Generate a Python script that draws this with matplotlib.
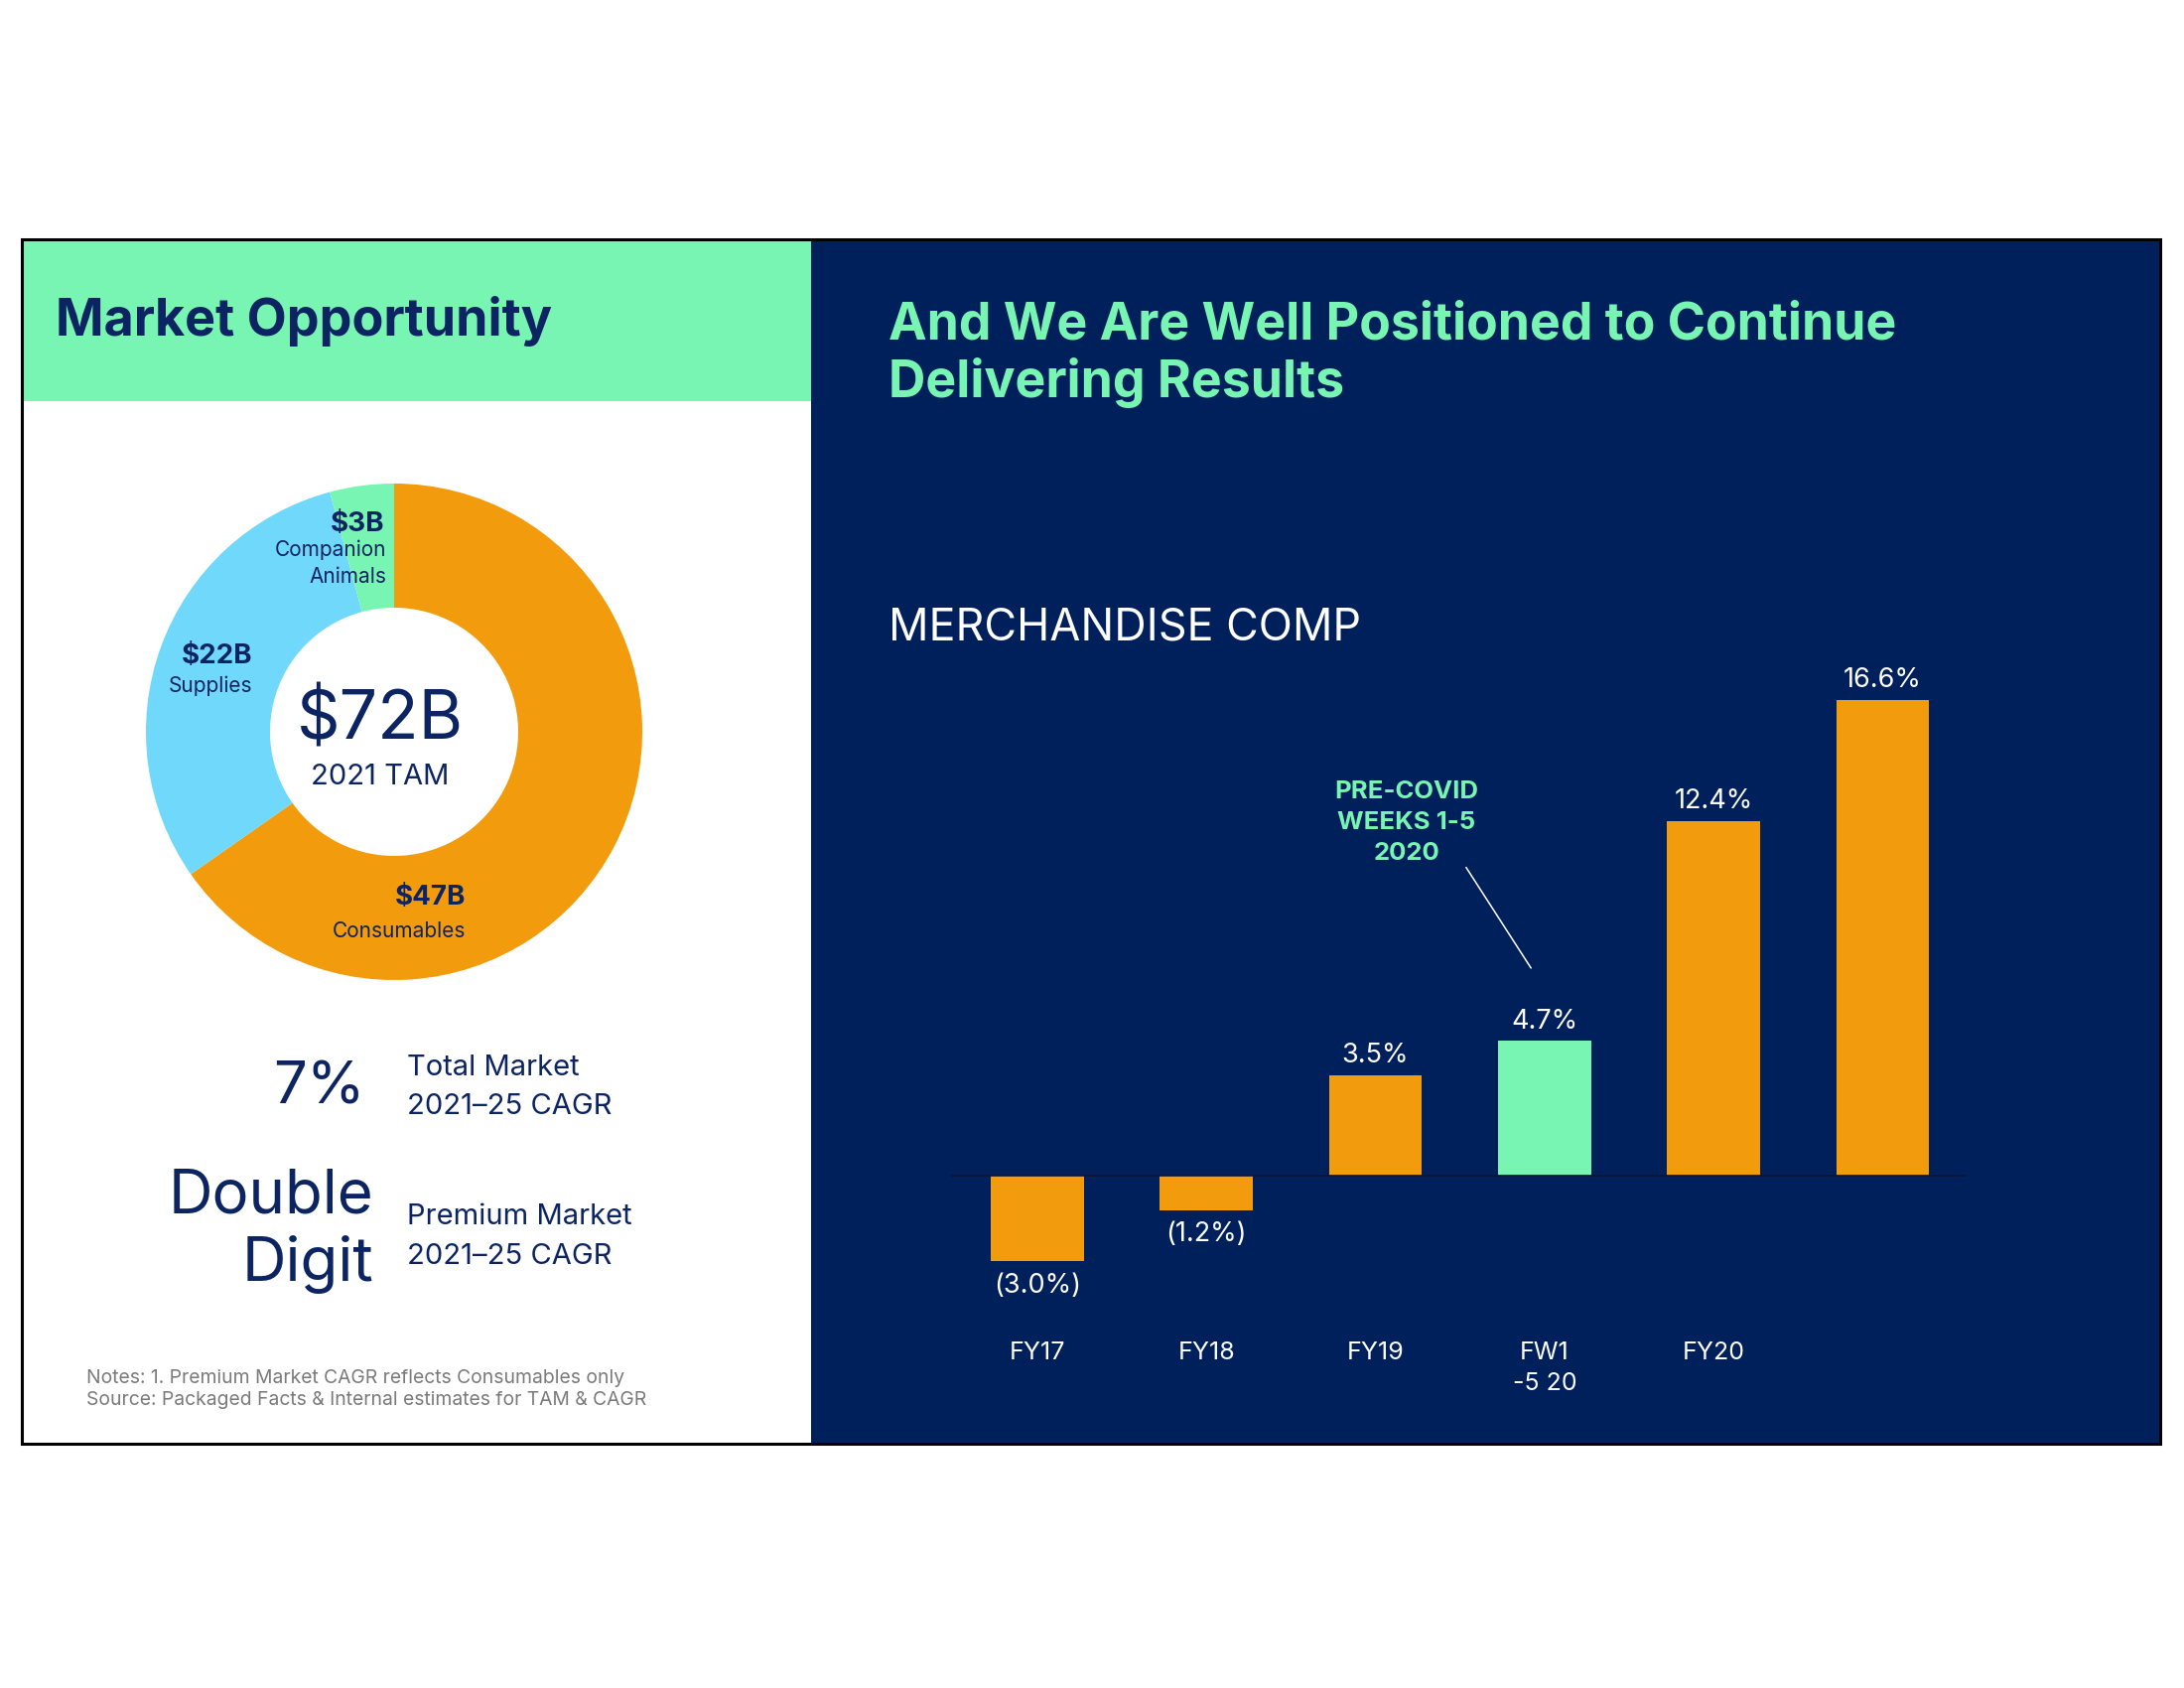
import matplotlib
matplotlib.use("Agg")
import matplotlib.pyplot as plt
from matplotlib.patches import Rectangle

# ---------------- data ----------------
donut_labels = ["Consumables", "Supplies", "Companion\nAnimals"]
donut_values = [47, 22, 3]
donut_value_text = ["$47B", "$22B", "$3B"]
tam_total = "$72B"
tam_label = "2021 TAM"

bar_categories = ["FY17", "FY18", "FY19", "FW1\n-5 20", "FY20", ""]
bar_values = [-3.0, -1.2, 3.5, 4.7, 12.4, 16.6]
bar_labels = ["(3.0%)", "(1.2%)", "3.5%", "4.7%", "12.4%", "16.6%"]
highlight_index = 3

# ---------------- styles ----------------
NAVY_BG = "#00205B"
NAVY_TXT = "#0C2461"
MINT = "#79F5B3"
ORANGE = "#F29B0D"
BLUE = "#6FD8FB"
GREY = "#7A7A7A"
FONT = "Inter"

W, H = 2200, 1700
fig = plt.figure(figsize=(22, 17), dpi=100)
fig.patch.set_facecolor("white")


def T(x, y, s, **kw):
    kw.setdefault("family", FONT)
    return fig.text(x / W, 1 - y / H, s, **kw)


# background / panels
bg = fig.add_axes([0, 0, 1, 1])
bg.set_xlim(0, W)
bg.set_ylim(H, 0)
bg.axis("off")
bg.add_patch(Rectangle((817, 241), 2176 - 817, 1454 - 241, facecolor=NAVY_BG, edgecolor="none"))
bg.add_patch(Rectangle((22, 241), 817 - 22, 404 - 241, facecolor=MINT, edgecolor="none"))
bg.add_patch(Rectangle((22, 241), 2176 - 22, 1454 - 241, facecolor="none", edgecolor="black", lw=2.2, zorder=5))

# ---------------- donut ----------------
cx, cy, R = 397, 737, 250
axd = fig.add_axes([(cx - R) / W, 1 - (cy + R) / H, 2 * R / W, 2 * R / H])
axd.pie(donut_values, colors=[ORANGE, BLUE, MINT], startangle=90, counterclock=False,
        radius=1, wedgeprops=dict(width=0.5, edgecolor="none"))
axd.set_xlim(-1, 1)
axd.set_ylim(-1, 1)
axd.set_aspect("equal")
axd.axis("off")

T(383, 744, tam_total, fontsize=49, color=NAVY_TXT, ha="center", va="baseline")
T(383, 790, tam_label, fontsize=21, color=NAVY_TXT, ha="center", va="baseline")

# donut slice labels (value bold + name)
T(469, 911, donut_value_text[0], fontsize=20, weight="bold", color=NAVY_TXT, ha="right", va="baseline")
T(469, 944, donut_labels[0], fontsize=15, color=NAVY_TXT, ha="right", va="baseline")
T(254, 668, donut_value_text[1], fontsize=20, weight="bold", color=NAVY_TXT, ha="right", va="baseline")
T(254, 697, donut_labels[1], fontsize=15, color=NAVY_TXT, ha="right", va="baseline")
T(387, 535, donut_value_text[2], fontsize=20, weight="bold", color=NAVY_TXT, ha="right", va="baseline")
T(389, 587, donut_labels[2], fontsize=15, color=NAVY_TXT, ha="right", va="baseline",
  linespacing=1.45, multialignment="right")

# titles
T(56, 338, "Market Opportunity", fontsize=37.5, weight="bold", color=NAVY_TXT, ha="left", va="baseline")
T(895, 341, "And We Are Well Positioned to Continue", fontsize=37.3, weight="bold", color=MINT,
  ha="left", va="baseline")
T(895, 400, "Delivering Results", fontsize=37.3, weight="bold", color=MINT, ha="left", va="baseline")
T(895, 644, "MERCHANDISE COMP", fontsize=32.3, weight="normal", color="white", ha="left", va="baseline")

# CAGR block
T(368, 1111, "7%", fontsize=43, color=NAVY_TXT, ha="right", va="baseline")
T(410, 1083, "Total Market", fontsize=21, color=NAVY_TXT, ha="left", va="baseline")
T(410, 1122, "2021\u201325 CAGR", fontsize=21, color=NAVY_TXT, ha="left", va="baseline")
T(376, 1221, "Double", fontsize=44.5, color=NAVY_TXT, ha="right", va="baseline")
T(376, 1290, "Digit", fontsize=44.5, color=NAVY_TXT, ha="right", va="baseline")
T(410, 1233, "Premium Market", fontsize=21, color=NAVY_TXT, ha="left", va="baseline")
T(410, 1273, "2021\u201325 CAGR", fontsize=21, color=NAVY_TXT, ha="left", va="baseline")

T(87, 1393, "Notes: 1. Premium Market CAGR reflects Consumables only", fontsize=13.9, color=GREY,
  ha="left", va="baseline")
T(87, 1415, "Source: Packaged Facts & Internal estimates for TAM & CAGR", fontsize=13.9, color=GREY,
  ha="left", va="baseline")

# ---------------- bar chart ----------------
x0, x1, ytop, ybot, yzero, ppu = 958, 1980, 650, 1420, 1184, 28.83
axb = fig.add_axes([x0 / W, 1 - ybot / H, (x1 - x0) / W, (ybot - ytop) / H])
axb.set_facecolor("none")
axb.set_xlim(-0.51, len(bar_values) - 0.51)
axb.set_ylim(-(ybot - yzero) / ppu, (yzero - ytop) / ppu)
for s in axb.spines.values():
    s.set_visible(False)
axb.set_xticks([])
axb.set_yticks([])

colors = [MINT if i == highlight_index else ORANGE for i in range(len(bar_values))]
xs = list(range(len(bar_values)))
axb.bar(xs, bar_values, width=0.55, color=colors, zorder=2)
axb.axhline(0, color="#0A1530", lw=1.2, zorder=3)

for x, v, lab in zip(xs, bar_values, bar_labels):
    if v >= 0:
        axb.annotate(lab, (x, v), xytext=(0, 5), textcoords="offset points", ha="center",
                     va="bottom", color="white", fontsize=19.5, family=FONT)
    else:
        axb.annotate(lab, (x, v), xytext=(0, -8), textcoords="offset points", ha="center",
                     va="top", color="white", fontsize=19.5, family=FONT)

for x, c in zip(xs, bar_categories):
    if c:
        axb.text(x, -5.80, c, ha="center", va="top", color="white", fontsize=18, family=FONT,
                 linespacing=1.45)

axb.annotate("PRE-COVID\nWEEKS 1-5\n2020", xy=(2.92, 7.25), xytext=(2.185, 13.82),
             textcoords="data", ha="center", va="top", color=MINT, fontsize=18.5, weight="bold",
             family=FONT, linespacing=1.45,
             arrowprops=dict(arrowstyle="-", color="white", lw=1.1, relpos=(0.9, 0.0),
                             shrinkA=0, shrinkB=0))

fig.savefig("out.png", dpi=100, facecolor="white")
